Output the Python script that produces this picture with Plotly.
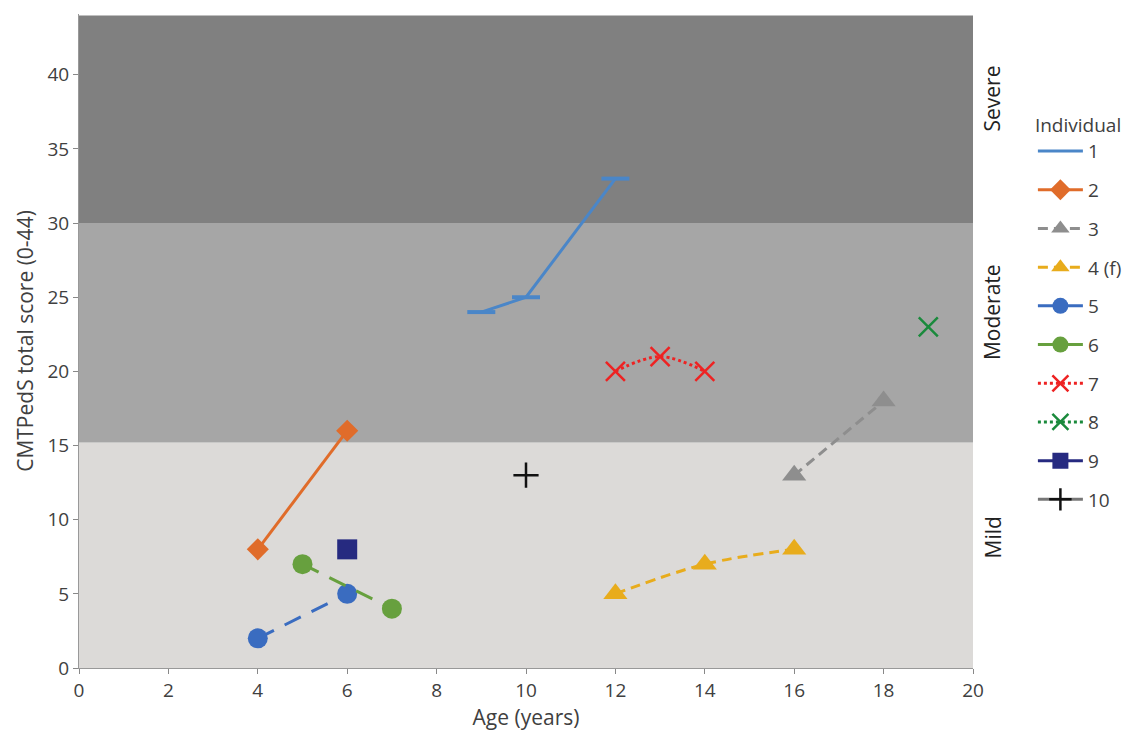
import plotly.graph_objects as go

bands = [("Mild", 0, 15.2, "#dcdad8"), ("Moderate", 15.2, 30, "#a6a6a6"), ("Severe", 30, 44, "#808080")]
band_label_y = [8.8, 24.0, 38.4]

x1 = [9, 10, 12]; y1 = [24, 25, 33]
x2 = [4, 6]; y2 = [8, 16]
x3 = [16, 18]; y3 = [13, 18]
x4 = [12, 14, 16]; y4 = [5, 7, 8]
x5 = [4, 6]; y5 = [2, 5]
x6 = [5, 7]; y6 = [7, 4]
x7 = [12, 13, 14]; y7 = [20, 21, 20]
x8 = [19]; y8 = [23]
x9 = [6]; y9 = [8]
x10 = [10]; y10 = [13]

fig = go.Figure()
for (name, lo, hi, col), ly in zip(bands, band_label_y):
    fig.add_shape(type="rect", xref="x", yref="y", x0=0, x1=20, y0=lo, y1=hi,
                  fillcolor=col, line_width=0, layer="below")
    fig.add_annotation(x=1.0, xref="paper", y=ly, yref="y",
                       text=name, textangle=-90, showarrow=False, xanchor="left",
                       xshift=3, font=dict(size=21, color="#222"))

def add(name, x, y, color, dash, symbol, size, shape="linear", lw=3):
    fig.add_trace(go.Scatter(x=x, y=y, name=name, mode="lines+markers",
                             line=dict(color=color, width=lw, dash=dash, shape=shape),
                             marker=dict(symbol=symbol, size=size, color=color,
                                         line=dict(width=0)),
                             legendgroup=name))

fig.add_trace(go.Scatter(x=x1, y=y1, name="1", mode="lines", legendgroup="1",
                         line=dict(color="#4a86c8", width=3)))
fig.add_trace(go.Scatter(x=x1, y=y1, mode="markers", showlegend=False, legendgroup="1",
                         marker=dict(symbol="line-ew", size=20, line=dict(width=4, color="#4a86c8"))))
add("2", x2, y2, "#e06c2a", "solid", "diamond", 17)
add("3", x3, y3, "#8e8e8e", "10px,6px", "triangle-up", 21)
add("4 (f)", x4, y4, "#e8ac1c", "10px,6px", "triangle-up", 21, shape="spline")
add("5", x5, y5, "#3a6cc0", "18px,12px", "circle", 20)
add("6", x6, y6, "#67a03e", "18px,12px", "circle", 20)
fig.add_trace(go.Scatter(x=x7, y=y7, name="7", mode="lines+markers", legendgroup="7",
                         line=dict(color="#ee2222", width=3, dash="dot", shape="spline"),
                         marker=dict(symbol="x-thin", size=19, line=dict(width=2.5, color="#ee2222"))))
fig.add_trace(go.Scatter(x=x8, y=y8, name="8", mode="lines+markers", legendgroup="8",
                         line=dict(color="#1a8a3c", width=3, dash="dot"),
                         marker=dict(symbol="x-thin", size=19, line=dict(width=2.5, color="#1a8a3c"))))
add("9", x9, y9, "#262a80", "solid", "square", 20)
fig.add_trace(go.Scatter(x=x10, y=y10, name="10", mode="lines+markers", legendgroup="10",
                         line=dict(color="#777777", width=3),
                         marker=dict(symbol="cross-thin", size=18, line=dict(width=2.5, color="#111111"))))

fig.update_layout(
    width=1133, height=730,
    margin=dict(l=71, r=168, t=6, b=70),
    paper_bgcolor="white", plot_bgcolor="white",
    font=dict(family="Open Sans", size=19, color="#404040"),
    legend=dict(title=dict(text="Individual", font=dict(size=19)), x=1.067, xanchor="left",
                y=0.857, yanchor="top", tracegroupgap=11, traceorder="grouped",
                font=dict(size=19), itemwidth=45),
    xaxis=dict(range=[0, 20], tickmode="linear", dtick=2, showgrid=False, zeroline=False,
               ticks="outside", ticklen=5, tickcolor="#888", showline=True, linecolor="#999",
               title=dict(text="Age (years)", font=dict(size=21), standoff=6),
               tickfont=dict(size=19)),
    yaxis=dict(range=[0, 44.1], tickmode="linear", dtick=5, showgrid=False, zeroline=False,
               ticks="outside", ticklen=5, tickcolor="#888", showline=True, linecolor="#999",
               title=dict(text="CMTPedS total score (0-44)", font=dict(size=21), standoff=8),
               tickfont=dict(size=19)),
)
fig.write_html("out.html")
